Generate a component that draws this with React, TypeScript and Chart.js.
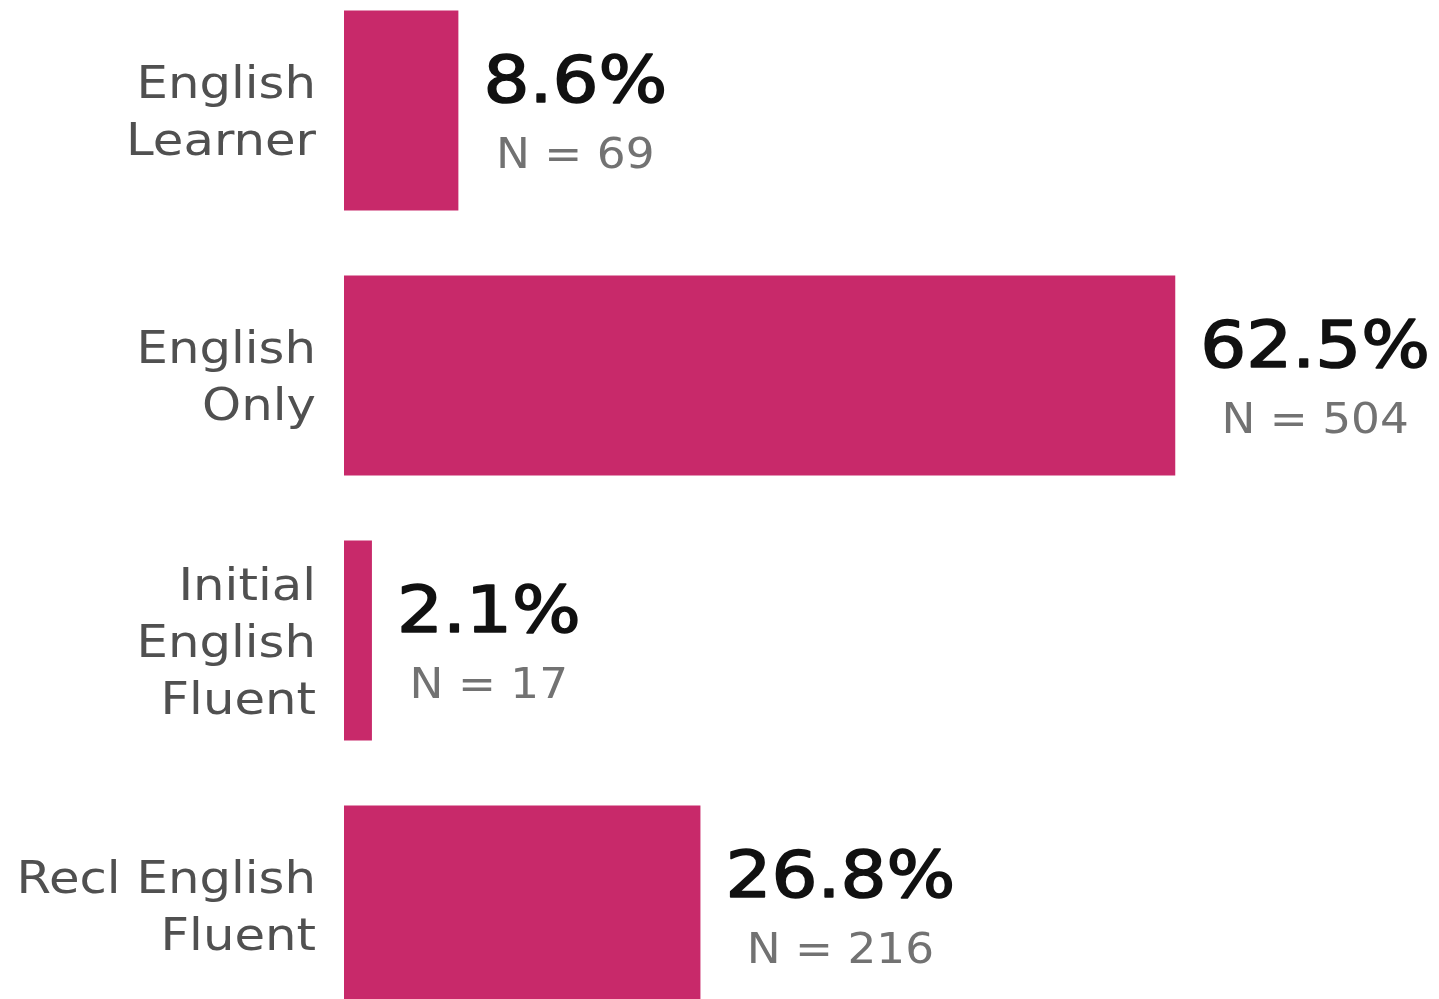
import React, { useEffect, useRef } from "react";
import { Chart, registerables } from "chart.js";

Chart.register(...registerables);

const categories: string[][] = [
  ["English", "Learner"],
  ["English", "Only"],
  ["Initial", "English", "Fluent"],
  ["Recl English", "Fluent"],
];
const percents: number[] = [8.6, 62.5, 2.1, 26.8];
const counts: number[] = [69, 504, 17, 216];

const BAR_COLOR = "#C8296A";
const FONT = "'DejaVu Sans', sans-serif";

const labelPlugin = {
  id: "customLabels",
  afterDatasetsDraw(chart: any) {
    const ctx = chart.ctx as CanvasRenderingContext2D;
    const meta = chart.getDatasetMeta(0);
    const area = chart.chartArea;
    meta.data.forEach((bar: any, i: number) => {
      const cy = bar.y;
      // category labels
      ctx.save();
      ctx.fillStyle = "#505050";
      ctx.font = `44px ${FONT}`;
      ctx.textAlign = "right";
      ctx.textBaseline = "alphabetic";
      const lines = categories[i];
      const lh = 57;
      const startCenter = cy - ((lines.length - 1) * lh) / 2;
      lines.forEach((ln, j) => {
        ctx.save();
        ctx.translate(area.left - 28, startCenter + j * lh + 16);
        ctx.scale(1.13, 1);
        ctx.fillText(ln, 0, 0);
        ctx.restore();
      });
      ctx.restore();

      // value labels
      const pctText = `${percents[i].toFixed(1)}%`;
      const nText = `N = ${counts[i]}`;
      ctx.save();
      ctx.font = `64px ${FONT}`;
      const sxP = 1.13;
      const pw = ctx.measureText(pctText).width * sxP;
      const left = bar.x + 25;
      const centerX = left + pw / 2;
      ctx.fillStyle = "#111111";
      ctx.strokeStyle = "#111111";
      ctx.lineWidth = 1.6;
      ctx.lineJoin = "round";
      ctx.textAlign = "center";
      ctx.textBaseline = "alphabetic";
      ctx.save();
      ctx.translate(centerX, cy - 8.5);
      ctx.scale(sxP, 1);
      ctx.fillText(pctText, 0, 0);
      ctx.strokeText(pctText, 0, 0);
      ctx.restore();

      ctx.font = `42px ${FONT}`;
      ctx.fillStyle = "#727272";
      ctx.save();
      ctx.translate(centerX, cy + 57.5);
      ctx.scale(1.08, 1);
      ctx.fillText(nText, 0, 0);
      ctx.restore();
      ctx.restore();
    });
  },
};

export default function App() {
  const canvasRef = useRef<HTMLCanvasElement | null>(null);

  useEffect(() => {
    if (!canvasRef.current) return;
    const chart = new Chart(canvasRef.current, {
      type: "bar",
      data: {
        labels: categories.map((c) => c.join(" ")),
        datasets: [
          {
            data: percents,
            backgroundColor: BAR_COLOR,
            borderWidth: 0,
            barPercentage: 0.755,
            categoryPercentage: 1,
          },
        ],
      },
      options: {
        indexAxis: "y",
        animation: false,
        responsive: true,
        maintainAspectRatio: false,
        layout: { padding: { left: 344, right: 0, top: 0, bottom: 0 } },
        plugins: {
          legend: { display: false },
          tooltip: { enabled: false },
        },
        scales: {
          x: { display: false, min: 0, max: 82.33 },
          y: { display: false, offset: true, grid: { display: false } },
        },
      },
      plugins: [labelPlugin],
    });
    return () => chart.destroy();
  }, []);

  return (
    <div
      style={{
        position: "fixed",
        top: 0,
        left: 0,
        width: 1439,
        height: 999,
        overflow: "hidden",
        background: "#ffffff",
      }}
    >
      <div
        style={{
          position: "absolute",
          top: -22.5,
          left: 0,
          width: 1439,
          height: 1060,
        }}
      >
        <canvas ref={canvasRef} />
      </div>
    </div>
  );
}
